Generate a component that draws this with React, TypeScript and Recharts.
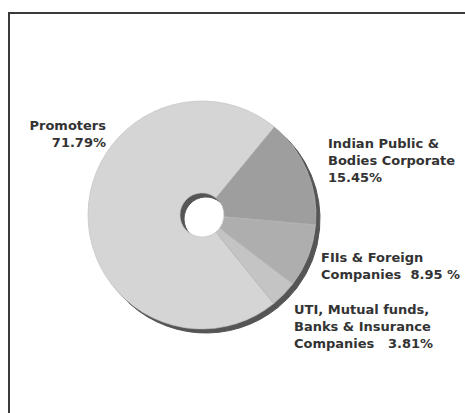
import { PieChart, Pie, Cell } from 'recharts'

const categories = [
  'Promoters',
  'Indian Public & Bodies Corporate',
  'FIIs & Foreign Companies',
  'UTI, Mutual funds, Banks & Insurance Companies',
]
const shares = [71.79, 15.45, 8.95, 3.81]
const labelTexts = [
  ['Promoters', '71.79%'],
  ['Indian Public &', 'Bodies Corporate', '15.45%'],
  ['FIIs & Foreign', 'Companies  8.95 %'],
  ['UTI, Mutual funds,', 'Banks & Insurance', 'Companies   3.81%'],
]

const sliceColors = ['#d5d5d5', '#9e9e9e', '#aeaeae', '#c4c4c4']

// where each label block sits (first baseline, anchor)
const labelSpots = [
  { x: 106, y: 130, anchor: 'end', gap: 17 },
  { x: 328, y: 148, anchor: 'start', gap: 17 },
  { x: 321, y: 262, anchor: 'start', gap: 17 },
  { x: 294, y: 314, anchor: 'start', gap: 17 },
]

const data = categories.map((name, i) => ({ name, value: shares[i] }))

const CX = 202
const CY = 215
const OUTER = 114
const INNER = 22

function renderLabel(props: any) {
  const i = props.index
  const spot = labelSpots[i]
  return (
    <text
      key={`lbl-${i}`}
      x={spot.x}
      y={spot.y}
      textAnchor={spot.anchor}
      fill="#333333"
      fontSize={13}
      fontWeight="bold"
      fontFamily="'DejaVu Sans', Verdana, sans-serif"
      style={{ whiteSpace: 'pre' }}
    >
      {labelTexts[i].map((line, j) => (
        <tspan key={j} x={spot.x} y={spot.y + j * spot.gap}>
          {line}
        </tspan>
      ))}
    </text>
  )
}

export default function App() {
  return (
    <div style={{ position: 'absolute', left: 0, top: 0, width: 465, height: 413, overflow: 'hidden', background: '#fff' }}>
      <div
        style={{
          position: 'absolute',
          left: 8,
          top: 12,
          width: 480,
          height: 420,
          borderLeft: '2px solid #3a3a3a',
          borderTop: '2px solid #3a3a3a',
        }}
      />
      <div style={{ position: 'absolute', left: 0, top: 0 }}>
        <PieChart width={465} height={413} margin={{ top: 0, right: 0, bottom: 0, left: 0 }}>
          {/* 3D rim / shadow */}
          <Pie
            data={data}
            dataKey="value"
            cx={CX + 4}
            cy={CY + 4}
            outerRadius={OUTER}
            innerRadius={INNER}
            startAngle={309}
            endAngle={-51}
            stroke="#555555"
            isAnimationActive={false}
          >
            {data.map((_, i) => (
              <Cell key={`s-${i}`} fill="#555555" />
            ))}
          </Pie>
          <Pie
            data={data}
            dataKey="value"
            cx={CX}
            cy={CY}
            outerRadius={OUTER}
            innerRadius={INNER}
            startAngle={309}
            endAngle={-51}
            stroke="#bdbdbd"
            strokeWidth={0.6}
            label={renderLabel}
            labelLine={false}
            isAnimationActive={false}
          >
            {data.map((_, i) => (
              <Cell key={`c-${i}`} fill={sliceColors[i]} />
            ))}
          </Pie>
        </PieChart>
      </div>
    </div>
  )
}
